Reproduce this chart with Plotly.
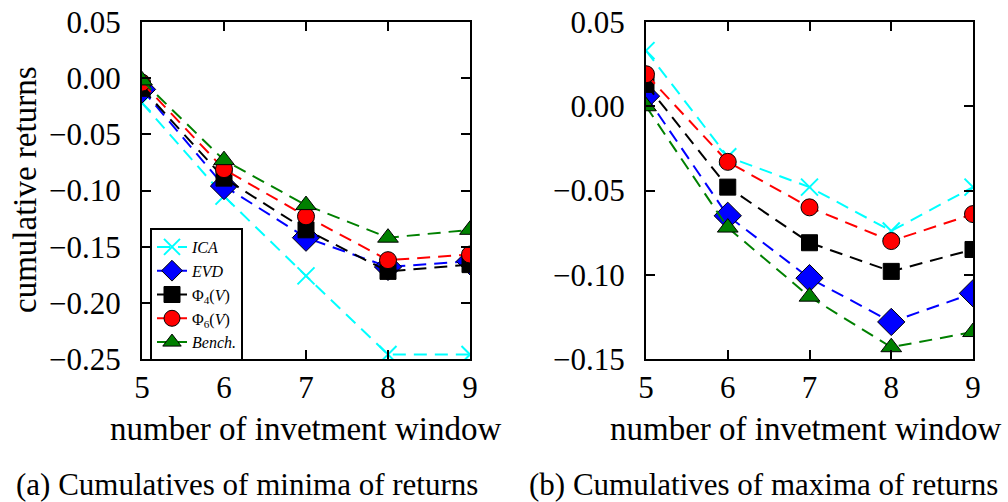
import plotly.graph_objects as go

# investment windows
windows = [5, 6, 7, 8, 9]

# (a) cumulatives of minima of returns
min_ica = [-0.022, -0.105, -0.176, -0.246, -0.246]
min_evd = [-0.010, -0.096, -0.142, -0.168, -0.163]
min_phi4 = [-0.009, -0.089, -0.135, -0.172, -0.166]
min_phi6 = [-0.004, -0.081, -0.123, -0.162, -0.157]
min_bench = [-0.002, -0.073, -0.113, -0.142, -0.135]

# (b) cumulatives of maxima of returns
max_ica = [0.033, -0.030, -0.048, -0.074, -0.048]
max_evd = [0.006, -0.065, -0.102, -0.128, -0.111]
max_phi4 = [0.013, -0.048, -0.081, -0.098, -0.085]
max_phi6 = [0.019, -0.033, -0.060, -0.080, -0.064]
max_bench = [0.000, -0.072, -0.113, -0.143, -0.134]

names = ["<i>ICA</i>", "<i>EVD</i>", "Φ<sub>4</sub>(<i>V</i>)",
         "Φ<sub>6</sub>(<i>V</i>)", "<i>Bench.</i>"]
colors = ["#00FFFF", "#0000FF", "#000000", "#FF0000", "#008000"]
symbols = ["x-thin", "diamond", "square", "circle", "triangle-up"]
sizes = [17, 21, 16, 17, 18]

FONT = "Liberation Serif"
W, H = 1008, 502


def px(x):
    return x / W


def py(y):
    return 1 - y / H


fig = go.Figure()

panels = [
    ([min_ica, min_evd, min_phi4, min_phi6, min_bench], "x", "y", True),
    ([max_ica, max_evd, max_phi4, max_phi6, max_bench], "x2", "y2", False),
]

for series, xa, ya, show in panels:
    for vals, name, col, sym, sz in zip(series, names, colors, symbols, sizes):
        if sym == "x-thin":
            marker = dict(symbol=sym, size=sz, color=col, line=dict(color=col, width=2))
        else:
            marker = dict(symbol=sym, size=sz, color=col, line=dict(color="black", width=1))
        fig.add_trace(
            go.Scatter(
                x=windows,
                y=vals,
                mode="lines+markers",
                name=name,
                line=dict(color=col, width=2, dash="13px,8px"),
                marker=marker,
                xaxis=xa,
                yaxis=ya,
                showlegend=show,
            )
        )

axis_common = dict(
    showline=True,
    linecolor="black",
    linewidth=2,
    mirror="ticks",
    ticks="inside",
    ticklen=9,
    tickwidth=1.5,
    tickcolor="black",
    showgrid=False,
    zeroline=False,
    automargin=False,
    ticklabeloverflow="allow",
    tickfont=dict(family=FONT, size=31, color="black"),
)

ydom = [py(359), py(22)]

fig.update_layout(
    width=W,
    height=H,
    margin=dict(l=0, r=0, t=0, b=0),
    paper_bgcolor="white",
    plot_bgcolor="white",
    font=dict(family=FONT, color="black"),
    xaxis=dict(domain=[px(142), px(470)], range=[5, 9], dtick=1,
               ticklabelstandoff=0, anchor="y", **axis_common),
    yaxis=dict(domain=ydom, range=[-0.25, 0.05], dtick=0.05,
               tickformat=".2f", ticklabelstandoff=13, anchor="x", **axis_common),
    xaxis2=dict(domain=[px(646), px(973)], range=[5, 9], dtick=1,
                ticklabelstandoff=0, anchor="y2", **axis_common),
    yaxis2=dict(domain=ydom, range=[-0.15, 0.05], dtick=0.05,
                tickformat=".2f", ticklabelstandoff=13, anchor="x2", **axis_common),
    legend=dict(
        x=px(150),
        y=py(228),
        xanchor="left",
        yanchor="top",
        bgcolor="white",
        bordercolor="black",
        borderwidth=2,
        font=dict(family=FONT, size=16, color="black"),
        itemwidth=30,
        tracegroupgap=0,
    ),
)

annotations = [
    dict(text="cumulative returns", x=px(25), y=py(190), textangle=-90, size=33),
    dict(text="number of invetment window", x=px(306), y=py(429), size=33),
    dict(text="number of invetment window", x=px(806), y=py(429), size=33),
    dict(text="(a) Cumulatives of minima of returns", x=px(247), y=py(484), size=31),
    dict(text="(b) Cumulatives of maxima of returns", x=px(763), y=py(484), size=31),
]
for a in annotations:
    size = a.pop("size")
    fig.add_annotation(xref="paper", yref="paper", showarrow=False,
                       xanchor="center", yanchor="middle",
                       font=dict(family=FONT, size=size, color="black"), **a)

# drop the default page margin so the figure fills the window exactly
fig.write_html("out.html", config={"displayModeBar": False},
               post_script="document.body.style.margin='0';")
